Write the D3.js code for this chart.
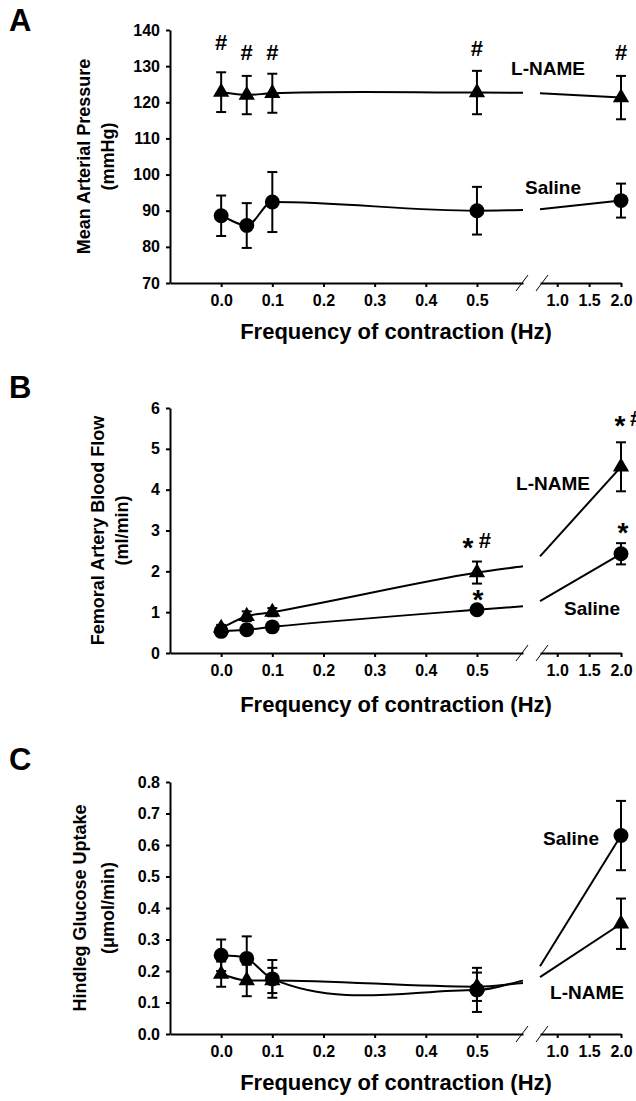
<!DOCTYPE html>
<html>
<head>
<meta charset="utf-8">
<script src="https://cdn.jsdelivr.net/npm/d3@7"></script>
<style>
  body { margin: 0; background: #fff; }
  text { font-family: "Liberation Sans", Arial, sans-serif; font-weight: bold; fill: #000; }
</style>
</head>
<body>
<svg id="chart" width="636" height="1101"></svg>
<script>
// frequency of contraction (Hz) for every point
var freq = [0, 0.05, 0.1, 0.5, 2.0];
var xTicksLeft = [0, 0.1, 0.2, 0.3, 0.4, 0.5];
var xTicksRight = [1.0, 1.5, 2.0];

// A - mean arterial pressure (mmHg)
var mapTicks = [70, 80, 90, 100, 110, 120, 130, 140];
var mapSaline = [88.6, 85.9, 92.4, 90.0, 92.8];
var mapSalineErr = [5.6, 6.2, 8.3, 6.6, 4.7];
var mapLname = [122.8, 122.0, 122.5, 122.7, 121.3];
var mapLnameErr = [5.5, 5.3, 5.4, 6.0, 6.0];

// B - femoral artery blood flow (ml/min)
var flowTicks = [0, 1, 2, 3, 4, 5, 6];
var flowSaline = [0.53, 0.57, 0.64, 1.06, 2.43];
var flowSalineErr = [0.06, 0.06, 0.06, 0.08, 0.26];
var flowLname = [0.61, 0.90, 1.00, 1.97, 4.56];
var flowLnameErr = [0.08, 0.12, 0.10, 0.27, 0.60];

// C - hindleg glucose uptake (umol/min)
var gluTicks = [0, 0.1, 0.2, 0.3, 0.4, 0.5, 0.6, 0.7, 0.8];
var gluSaline = [0.25, 0.24, 0.175, 0.14, 0.63];
var gluSalineErr = [0.05, 0.07, 0.06, 0.07, 0.11];
var gluLname = [0.19, 0.17, 0.17, 0.15, 0.35];
var gluLnameErr = [0.04, 0.05, 0.04, 0.045, 0.08];

var svg = d3.select("#chart");

// broken x axis: two linear pieces
var xL = d3.scaleLinear().domain([-0.1, 0.59]).range([170, 523]);
var xR = d3.scaleLinear().domain([0.73, 2.0]).range([540, 621]);
function xPos(f) { return f < 0.65 ? xL(f) : xR(f); }

// smooth y(x) curve: cubic Hermite pieces, slope = mean of neighbouring secants
// (flat where the data turns), written out as bezier segments
function SplineX(context) { this._context = context; }
SplineX.prototype = {
  areaStart: function() { this._line = 0; },
  areaEnd: function() { this._line = NaN; },
  lineStart: function() { this._xs = []; this._ys = []; },
  point: function(x, y) { this._xs.push(+x); this._ys.push(+y); },
  lineEnd: function() {
    var X = this._xs, Y = this._ys, n = X.length, ctx = this._context, i;
    if (!n) return;
    ctx.moveTo(X[0], Y[0]);
    if (n < 3) { for (i = 1; i < n; i++) ctx.lineTo(X[i], Y[i]); return; }
    var h = [], s = [], m = [];
    for (i = 0; i < n - 1; i++) { h.push(X[i + 1] - X[i]); s.push((Y[i + 1] - Y[i]) / h[i]); }
    m.push(s[0]);
    for (i = 1; i < n - 1; i++) m.push(s[i - 1] * s[i] <= 0 ? 0 : (s[i - 1] + s[i]) / 2);
    m.push(s[n - 2]);
    for (i = 0; i < n - 1; i++) {
      ctx.bezierCurveTo(X[i] + h[i] / 3, Y[i] + m[i] * h[i] / 3,
                        X[i + 1] - h[i] / 3, Y[i + 1] - m[i + 1] * h[i] / 3,
                        X[i + 1], Y[i + 1]);
    }
  }
};
function curveSplineX(context) { return new SplineX(context); }

var panels = [
  { letter: "A", letterY: 31,
    yDomain: [70, 140], yRange: [283, 30], yTicks: mapTicks, fmt: d3.format("d"),
    title: ["Mean Arterial Pressure", "(mmHg)"], titleX: [90, 114],
    xTitleY: 339,
    series: [
      { name: "Saline", vals: mapSaline, err: mapSalineErr, shape: "circle" },
      { name: "L-NAME", vals: mapLname, err: mapLnameErr, shape: "triangle" }
    ],
    labels: [ { t: "L-NAME", x: 548, y: 75 }, { t: "Saline", x: 553, y: 194 } ],
    notes: [
      { f: 0, v: 134.5, t: "#", dx: 0 }, { f: 0.05, v: 131.7, t: "#", dx: 0 },
      { f: 0.1, v: 131.7, t: "#", dx: 0 }, { f: 0.5, v: 132.8, t: "#", dx: 0 },
      { f: 2.0, v: 131.7, t: "#", dx: 0 }
    ] },
  { letter: "B", letterY: 398,
    yDomain: [0, 6], yRange: [653, 408], yTicks: flowTicks, fmt: d3.format("d"),
    title: ["Femoral Artery Blood Flow", "(ml/min)"], titleX: [104, 128],
    xTitleY: 712,
    series: [
      { name: "Saline", vals: flowSaline, err: flowSalineErr, shape: "circle" },
      { name: "L-NAME", vals: flowLname, err: flowLnameErr, shape: "triangle" }
    ],
    labels: [ { t: "L-NAME", x: 553, y: 490 }, { t: "Saline", x: 592, y: 615 } ],
    notes: [
      { f: 0.5, v: 2.35, t: "*", dx: -9 }, { f: 0.5, v: 2.57, t: "#", dx: 8 },
      { f: 0.5, v: 1.08, t: "*", dx: 1 },
      { f: 2.0, v: 5.35, t: "*", dx: -1 }, { f: 2.0, v: 5.56, t: "#", dx: 15 },
      { f: 2.0, v: 2.73, t: "*", dx: 2 }
    ] },
  { letter: "C", letterY: 770,
    yDomain: [0, 0.8], yRange: [1034, 782], yTicks: gluTicks, fmt: d3.format(".1f"),
    title: ["Hindleg Glucose Uptake", "(\u03bcmol/min)"], titleX: [86, 114],
    xTitleY: 1090,
    series: [
      { name: "Saline", vals: gluSaline, err: gluSalineErr, shape: "circle" },
      { name: "L-NAME", vals: gluLname, err: gluLnameErr, shape: "triangle" }
    ],
    labels: [ { t: "Saline", x: 571, y: 845 }, { t: "L-NAME", x: 587, y: 999 } ],
    notes: [] }
];

panels.forEach(drawPanel);

function styleAxis(sel, size) {
  sel.select(".domain").attr("stroke", "#000").attr("stroke-width", 2);
  sel.selectAll(".tick line").attr("stroke", "#000").attr("stroke-width", 2);
  sel.selectAll(".tick text").style("font-size", size + "px")
    .style("font-family", "'Liberation Sans', Arial, sans-serif").style("font-weight", "bold");
}

function drawPanel(p) {
  var g = svg.append("g");
  var y = d3.scaleLinear().domain(p.yDomain).range(p.yRange);
  var y0 = p.yRange[0];

  // panel letter
  g.append("text").attr("x", 9).attr("y", p.letterY).style("font-size", "31px").text(p.letter);

  // y axis
  var ya = g.append("g").attr("transform", "translate(" + xL.range()[0] + ",0)")
    .call(d3.axisLeft(y).tickValues(p.yTicks).tickFormat(p.fmt).tickSize(4).tickSizeOuter(0).tickPadding(6));
  styleAxis(ya, 16);

  // x axis, two pieces
  var xa1 = g.append("g").attr("transform", "translate(0," + y0 + ")")
    .call(d3.axisBottom(xL).tickValues(xTicksLeft).tickFormat(d3.format(".1f")).tickSize(4).tickSizeOuter(0).tickPadding(8));
  var xa2 = g.append("g").attr("transform", "translate(0," + y0 + ")")
    .call(d3.axisBottom(xR).tickValues(xTicksRight).tickFormat(d3.format(".1f")).tickSize(4).tickSizeOuter(0).tickPadding(8));
  styleAxis(xa1, 16);
  styleAxis(xa2, 16);

  // break marks
  [xL.range()[1] - 1, xR.range()[0] + 2].forEach(function(bx) {
    g.append("line").attr("x1", bx - 6).attr("y1", y0 + 8).attr("x2", bx + 6).attr("y2", y0 - 8)
      .attr("stroke", "#000").attr("stroke-width", 1);
  });

  // axis titles
  g.append("text").attr("x", 396).attr("y", p.xTitleY).attr("text-anchor", "middle")
    .style("font-size", "22px").text("Frequency of contraction (Hz)");
  var cy = (p.yRange[0] + p.yRange[1]) / 2;
  p.title.forEach(function(t, i) {
    g.append("text").attr("transform", "translate(" + p.titleX[i] + "," + cy + ") rotate(-90)")
      .attr("text-anchor", "middle").style("font-size", "18px").text(t);
  });

  var lineL = d3.line().x(function(d) { return xL(d.f); }).y(function(d) { return y(d.v); }).curve(curveSplineX);
  var lineR = d3.line().x(function(d) { return xR(d.f); }).y(function(d) { return y(d.v); });

  p.series.forEach(function(s) {
    var a = s.vals[3], b = s.vals[4];
    function across(f) { return a + (b - a) * (f - freq[3]) / (freq[4] - freq[3]); }
    var left = freq.slice(0, 4).map(function(f, i) { return { f: f, v: s.vals[i] }; });
    left.push({ f: xL.domain()[1], v: across(xL.domain()[1]) });
    var right = [{ f: xR.domain()[0], v: across(xR.domain()[0]) }, { f: freq[4], v: b }];
    g.append("path").datum(left).attr("d", lineL).attr("fill", "none").attr("stroke", "#000").attr("stroke-width", 2);
    g.append("path").datum(right).attr("d", lineR).attr("fill", "none").attr("stroke", "#000").attr("stroke-width", 2);
  });

  p.series.forEach(function(s) {
    var pts = freq.map(function(f, i) { return { f: f, v: s.vals[i], e: s.err[i] }; });
    var eb = g.append("g").selectAll("g").data(pts).enter().append("g");
    eb.append("line").attr("x1", function(d) { return xPos(d.f); }).attr("x2", function(d) { return xPos(d.f); })
      .attr("y1", function(d) { return y(d.v - d.e); }).attr("y2", function(d) { return y(d.v + d.e); })
      .attr("stroke", "#000").attr("stroke-width", 2);
    [-1, 1].forEach(function(sg) {
      eb.append("line").attr("x1", function(d) { return xPos(d.f) - 5; }).attr("x2", function(d) { return xPos(d.f) + 5; })
        .attr("y1", function(d) { return y(d.v + sg * d.e); }).attr("y2", function(d) { return y(d.v + sg * d.e); })
        .attr("stroke", "#000").attr("stroke-width", 2);
    });
    var sym = d3.symbol().type(s.shape === "circle" ? d3.symbolCircle : d3.symbolTriangle)
      .size(s.shape === "circle" ? 175 : 115);
    g.append("g").selectAll("path").data(pts).enter().append("path")
      .attr("d", sym)
      .attr("transform", function(d) { return "translate(" + xPos(d.f) + "," + y(d.v) + ")"; })
      .attr("fill", "#000");
  });

  p.labels.forEach(function(l) {
    g.append("text").attr("x", l.x).attr("y", l.y).attr("text-anchor", "middle")
      .style("font-size", "19px").text(l.t);
  });

  p.notes.forEach(function(n) {
    g.append("text").attr("x", xPos(n.f) + n.dx).attr("y", y(n.v)).attr("text-anchor", "middle")
      .style("font-size", n.t === "*" ? "28px" : "22px").text(n.t);
  });
}
</script>
</body>
</html>
